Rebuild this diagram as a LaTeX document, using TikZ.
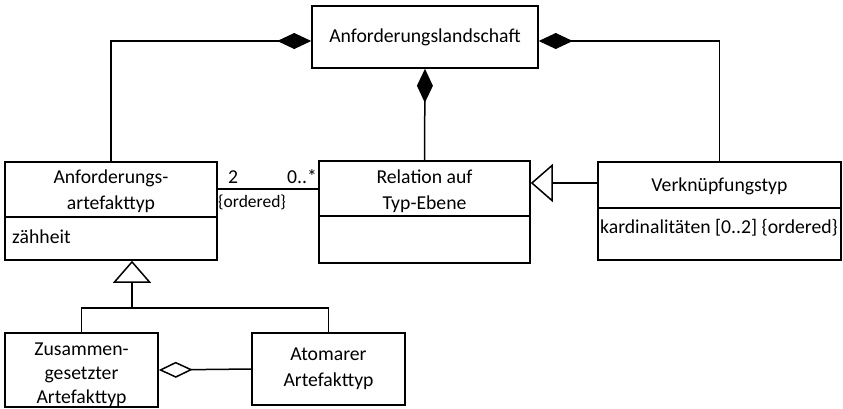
\documentclass[tikz,border=0pt]{standalone}
\usepackage{fontspec}
\setmainfont{Carlito}
\usetikzlibrary{arrows.meta}
\begin{document}
\begin{tikzpicture}[x=1pt,y=-1pt,
  every node/.style={font=\fontsize{19.7}{26.5}\selectfont, inner sep=0pt},
  cls/.style={draw, line width=1.5pt, rectangle, minimum width=#1},
  lbl/.style={align=center},
  conn/.style={line width=1.5pt},
  comp/.style={-{Diamond[fill=black,length=34pt,width=16pt]}},
  aggr/.style={-{Diamond[open,fill=white,length=34pt,width=16pt]}},
  gen/.style={-{Triangle[open,fill=white,length=22pt,width=38pt]}},
]
\useasboundingbox (0,0) rectangle (843,408);

% class boxes
\node[cls=226pt, minimum height=62pt] (land) at (425,37) {};
\node[cls=212pt, minimum height=98pt] (art) at (111,211) {};
\node[cls=211pt, minimum height=102pt] (rel) at (424.5,212) {};
\node[cls=243pt, minimum height=98pt] (verk) at (719.5,211) {};
\node[cls=153pt, minimum height=74pt] (zus) at (81.5,370) {};
\node[cls=153pt, minimum height=72pt] (atom) at (328.5,369) {};

% compartment separators
\draw[conn] (art.west |- 0,217) -- (art.east |- 0,217);
\draw[conn] (rel.west |- 0,216) -- (rel.east |- 0,216);
\draw[conn] (verk.west |- 0,208) -- (verk.east |- 0,208);

% names and attributes
\node[lbl] (tland) at (land) {Anforderungslandschaft};
\node[lbl] (tart) at (111,191) {Anforderungs-\\artefakttyp};
\node[anchor=west] (aart) at (12,237) {zähheit};
\node[lbl] (trel) at (424.5,191) {Relation auf\\Typ-Ebene};
\node[lbl] (tverk) at (719.5,186) {Verknüpfungstyp};
\node[anchor=west] (averk) at (600,228) {kardinalitäten [0..2] {\{}ordered{\}}};
\node[lbl, font=\fontsize{19.7}{24}\selectfont] (tzus) at (81.5,375) {Zusammen-\\gesetzter\\Artefakttyp};
\node[lbl] (tatom) at (atom) {Atomarer\\Artefakttyp};

% compositions into the landscape
\draw[conn, comp] (art.north) |- ([yshift=-4pt]land.west);
\draw[conn, comp] (verk.north) |- ([yshift=-4pt]land.east);
\draw[conn, comp] (rel.north) -- (land.south);

% association between artefact type and relation
\draw[conn] ([yshift=22pt]art.east) -- ([yshift=22pt]art.east -| rel.west);
\node (m1) at (233,177) {2};
\node (m2) at (302,177) {0..*};
\node[anchor=west, font=\fontsize{17.5}{20}\selectfont] (ord) at (218,202) {\{ordered\}};

% generalisations
\draw[conn, gen] ([yshift=28pt]verk.west) -- ([yshift=28pt]verk.west -| rel.east);
\coordinate (j) at (132,308);
\draw[conn] (zus.north) |- (j) -| (atom.north);
\draw[conn, gen] (j) -- ([xshift=21pt]art.south);

% aggregation
\draw[conn, aggr] (atom.west) -- (zus.east);
\end{tikzpicture}
\end{document}
